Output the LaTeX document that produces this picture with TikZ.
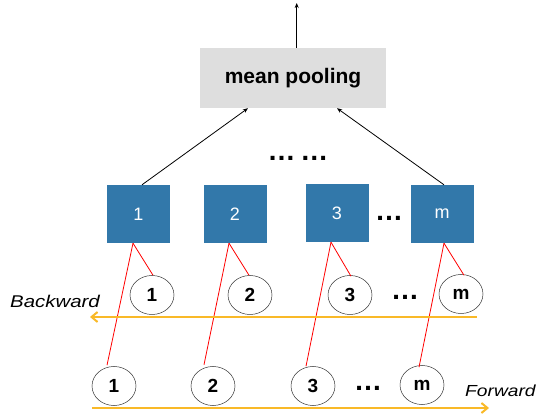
\documentclass[tikz,border=0pt]{standalone}
\usepackage{fontspec}
\setmainfont{Liberation Sans}
\newfontfamily\widefont[FakeStretch=1.2]{Liberation Sans}
\usetikzlibrary{arrows.meta,shapes.geometric}
\definecolor{sqblue}{RGB}{50,120,170}
\definecolor{poolgray}{RGB}{222,222,222}
\definecolor{arrorange}{RGB}{249,185,40}
\begin{document}
\begin{tikzpicture}[x=1pt,y=-1pt,
  sq/.style={fill=sqblue, minimum width=63pt, minimum height=58pt, inner sep=0pt,
    text=white, font=\fontsize{18}{18}\selectfont},
  ell/.style={draw=black!80, line width=0.5pt, ellipse, minimum width=44pt, minimum height=39pt,
    inner sep=0pt, font=\bfseries\fontsize{19}{19}\selectfont},
  dotsl/.style={inner sep=0pt, font=\bfseries\fontsize{28}{28}\selectfont},
  blackarr/.style={line width=0.8pt, -{Stealth[length=5pt,width=4pt]}},
  redline/.style={red, line width=0.8pt},
  orangearr/.style={arrorange, line width=2pt, -{Straight Barb[length=6pt,width=10pt]}},
  lbl/.style={inner sep=0pt, anchor=base west, font=\widefont\itshape\fontsize{17}{17}\selectfont}
]
\useasboundingbox (0,0) rectangle (539,414);

% mean pooling box
\node[fill=poolgray, minimum width=186pt, minimum height=60pt, inner sep=0pt,
  font=\bfseries\fontsize{21}{21}\selectfont] (pool) at (293,78) {mean pooling};
\coordinate (out) at (296.7,3);
\draw[blackarr] ([xshift=3.7pt]pool.north) -- (out);

% dots
\node[dotsl] (topdots) at (298,158) {…\,…};

% squares
\node[sq] (s1) at (138.5,214) {1};
\node[sq] (s2) at (235,214) {2};
\node[sq] (s3) at (337,213) {3};
\node[sq] (s4) at (442,214) {m};
\node[dotsl] (sqdots) at (389,218) {…};

\draw[blackarr] ([xshift=3.5pt]s1.north) -- ([xshift=-45pt]pool.south);
\draw[blackarr] ([xshift=2pt]s4.north) -- ([xshift=44pt]pool.south);

% upper (backward) circles
\node[ell] (b1) at (152,295) {1};
\node[ell] (b2) at (250,295) {2};
\node[ell] (b3) at (350,295) {3};
\node[ell] (b4) at (461,294) {m};
\node[dotsl] (bdots) at (405,297) {…};

% lower (forward) circles
\node[ell] (f1) at (114,386) {1};
\node[ell] (f2) at (213,386) {2};
\node[ell] (f3) at (313,386) {3};
\node[ell] (f4) at (422,385) {m};
\node[dotsl] (fdots) at (368,388) {…};

% red lines
\draw[redline] ([xshift=-5.5pt]s1.south) -- ([xshift=1pt]b1.north);
\draw[redline] ([xshift=-5.5pt]s1.south) -- ([xshift=-7pt,yshift=1pt]f1.north);
\draw[redline] ([xshift=-6pt]s2.south) -- ([xshift=-1pt]b2.north);
\draw[redline] ([xshift=-6pt]s2.south) -- ([xshift=-9pt,yshift=1.5pt]f2.north);
\draw[redline] ([xshift=-6pt]s3.south) -- ([xshift=1pt,yshift=-1pt]b3.north);
\draw[redline] ([xshift=-6pt]s3.south) -- ([xshift=-7pt,yshift=0pt]f3.north);
\draw[redline] ([xshift=2pt]s4.south) -- ([xshift=3pt,yshift=-1pt]b4.north);
\draw[redline] ([xshift=2pt]s4.south) -- ([xshift=-3pt,yshift=-2pt]f4.north);

% orange arrows
\coordinate (bwstart) at (477,317);
\coordinate (bwend) at (90,317);
\coordinate (fwstart) at (92,408);
\coordinate (fwend) at (489,408);
\draw[orangearr] (bwstart) -- (bwend);
\draw[orangearr] (fwstart) -- (fwend);

% labels
\node[lbl] (bwlabel) at (10,308) {Backward};
\node[lbl, font=\widefont\itshape\fontsize{16}{16}\selectfont] (fwlabel) at (465,397) {Forward};
\end{tikzpicture}
\end{document}
